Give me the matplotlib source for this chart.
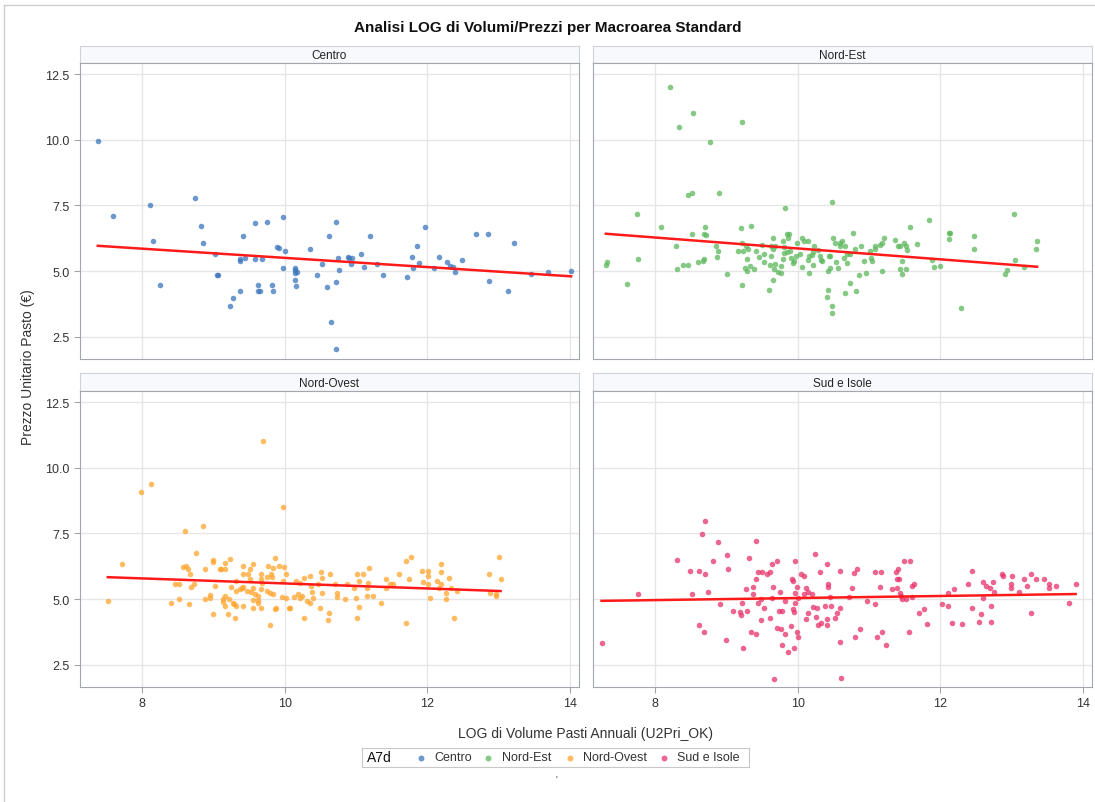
import matplotlib

matplotlib.use("Agg")

import matplotlib.pyplot as plt
import numpy as np
from matplotlib.lines import Line2D

plt.rcParams["font.family"] = ["Liberation Sans", "DejaVu Sans"]

REGIONS = ["Centro", "Nord-Est", "Nord-Ovest", "Sud e Isole"]
COLORS = ["#3b76bd", "#5cb85c", "#ffa52e", "#e8336b"]

centro_x = [7.38, 7.59, 8.11, 8.15, 8.25, 8.74, 8.83, 8.86, 9.02, 9.05, 9.07, 9.23, 9.27,
            9.37, 9.37, 9.38, 9.44, 9.41, 9.59, 9.59, 9.62, 9.63, 9.65, 9.68, 9.75, 9.83,
            9.84, 9.89, 9.92, 9.98, 10.0, 9.98, 10.14, 10.14, 10.15, 10.18, 10.14, 10.16,
            10.36, 10.46, 10.52, 10.59, 10.62, 10.65, 10.72, 10.72, 10.72, 10.75, 10.77,
            10.89, 10.90, 10.93, 10.94, 11.07, 11.11, 11.20, 11.29, 11.38, 11.72, 11.79,
            11.80, 11.86, 11.89, 11.97, 12.09, 12.16, 12.28, 12.32, 12.36, 12.39, 12.49,
            12.68, 12.85, 12.87, 13.13, 13.22, 13.46, 13.69, 14.02]
centro_y = [9.96, 7.11, 7.53, 6.15, 4.48, 7.80, 6.73, 6.09, 5.66, 4.86, 4.86, 3.68, 3.99,
            4.25, 5.47, 5.37, 5.51, 6.32, 6.85, 5.47, 4.48, 4.25, 4.25, 5.47, 6.89, 4.48,
            4.25, 5.92, 5.90, 7.08, 5.75, 5.13, 5.13, 5.05, 4.94, 4.96, 4.67, 4.44,
            5.85, 4.86, 5.28, 4.41, 6.34, 3.06, 6.89, 4.59, 2.04, 5.51, 5.05,
            5.54, 5.51, 5.28, 5.51, 5.66, 5.16, 6.34, 5.28, 4.86, 4.78, 5.54,
            5.13, 5.96, 5.32, 6.68, 5.13, 5.54, 5.35, 5.20, 5.16, 4.97, 5.43,
            6.42, 6.42, 4.63, 4.25, 6.08, 4.90, 4.97, 5.01]

nordest_x = [8.21, 8.53, 8.34, 9.22, 8.77, 8.46, 8.52, 8.90, 10.48, 9.83, 7.75, 13.03, 11.85,
             8.08, 8.70, 9.21, 9.35, 11.57, 8.52, 8.69, 8.71, 9.85, 9.88, 9.87, 10.78, 12.13,
             12.14, 12.13, 12.47, 13.36, 13.35, 12.47, 8.30, 8.85, 8.88, 8.87, 9.22, 9.16,
             9.23, 9.28, 9.31, 9.41, 9.50, 9.29, 9.46, 9.53, 9.65, 9.63, 9.65, 9.69, 9.63,
             9.53, 9.61, 9.69, 9.67, 9.73, 9.77, 9.77, 9.80, 9.81, 9.81, 9.80, 9.85, 9.90,
             9.91, 9.93, 9.95, 9.98, 9.99, 10.04, 10.06, 10.09, 10.14, 10.06, 10.16, 10.14,
             10.16, 10.20, 10.22, 10.23, 10.28, 10.21, 10.31, 10.33, 10.34, 10.44, 10.45,
             10.43, 10.46, 10.42, 10.41, 10.48, 10.48, 10.50, 10.52, 10.54, 10.57, 10.59,
             10.59, 10.62, 10.65, 10.67, 10.70, 10.73, 10.70, 10.73, 10.66, 10.82, 10.80,
             10.86, 10.89, 10.93, 10.96, 11.01, 11.03, 11.05, 11.08, 11.09, 11.16, 11.18,
             11.21, 11.19, 11.36, 11.41, 11.43, 11.49, 11.52, 11.53, 11.46, 11.43, 11.52,
             11.46, 11.67, 11.88, 11.91, 12.00, 12.29, 12.91, 12.94, 13.05, 13.18, 7.31,
             7.33, 7.60, 7.76, 8.31, 8.39, 8.46, 8.60, 8.67, 8.69, 9.01, 9.22, 9.26, 9.29,
             9.33, 9.39, 9.60, 9.65]
nordest_y = [11.99, 11.0, 10.47, 10.68, 9.92, 7.91, 7.99, 7.99, 7.65, 7.42, 7.19, 7.19, 6.96,
             6.70, 6.70, 6.66, 6.73, 6.70, 6.43, 6.43, 6.39, 6.43, 6.43, 6.28, 6.47, 6.47,
             6.47, 6.24, 6.35, 6.16, 5.86, 5.86, 5.97, 5.94, 5.78, 5.54, 6.09, 5.78,
             5.78, 5.94, 5.86, 5.75, 6.01, 5.47, 5.54, 5.67, 6.28, 5.94, 5.86, 5.97, 5.59,
             5.35, 5.24, 5.27, 5.09, 4.97, 4.95, 5.20, 6.13, 5.91, 5.71, 5.47, 5.72, 5.78,
             5.52, 5.32, 5.37, 5.59, 6.09, 5.67, 6.25, 6.13, 6.13, 5.16, 4.95, 5.42,
             5.59, 5.62, 5.72, 5.94, 5.80, 5.25, 5.59, 5.41, 5.37, 5.59, 5.56,
             5.01, 5.11, 4.29, 4.01, 3.68, 3.41, 6.28, 6.09, 5.34, 5.14, 6.09,
             5.97, 6.13, 5.52, 5.97, 5.66, 5.67, 5.32, 4.56, 4.18, 4.25, 5.86,
             4.86, 5.97, 5.37, 4.94, 5.75, 5.52, 5.37, 5.97, 5.86, 6.01, 6.09,
             6.28, 5.01, 6.20, 5.97, 5.94, 6.09, 5.96, 5.82, 5.37, 5.09, 5.09,
             4.90, 6.04, 5.41, 5.16, 5.20, 3.61, 4.90, 5.05, 5.41, 5.16, 5.24,
             5.35, 4.52, 5.47, 5.09, 5.24, 5.24, 5.35, 5.39, 5.47, 4.90, 4.48, 5.13, 5.01,
             5.20, 5.09, 4.29, 4.68]

nordovest_x = [7.52, 7.72, 7.99, 8.13, 9.70, 9.98, 8.60, 8.85, 8.76, 8.57, 8.62, 8.65, 8.68,
               8.46, 8.52, 8.69, 8.73, 8.41, 8.52, 8.66, 8.89, 8.99, 9.00, 9.03, 8.89, 8.96,
               8.96, 9.00, 9.10, 9.11, 9.17, 9.17, 9.24, 9.14, 9.14, 9.17, 9.17, 9.20, 9.22,
               9.25, 9.27, 9.29, 9.32, 9.30, 9.32, 9.32, 9.37, 9.40, 9.42, 9.42, 9.41, 9.48,
               9.47, 9.51, 9.52, 9.56, 9.42, 9.53, 9.55, 9.55, 9.55, 9.58, 9.62, 9.62, 9.63,
               9.67, 9.67, 9.69, 9.67, 9.67, 9.75, 9.77, 9.76, 9.81, 9.83, 9.84, 9.80, 9.84,
               9.87, 9.92, 9.99, 9.98, 10.02, 9.97, 10.02, 9.88, 9.87, 9.80, 10.06, 10.08,
               10.16, 10.22, 10.27, 10.35, 10.13, 10.19, 10.22, 10.25, 10.27, 10.31, 10.35,
               10.37, 10.38, 10.40, 10.47, 10.51, 10.52, 10.53, 10.50, 10.62, 10.61, 10.64,
               10.71, 10.74, 10.73, 10.85, 10.88, 10.98, 11.00, 11.02, 11.04, 11.02, 11.04,
               11.10, 11.16, 11.16, 11.17, 11.18, 11.24, 11.35, 11.42, 11.42, 11.48, 11.52,
               11.60, 11.70, 11.78, 11.75, 11.70, 11.93, 11.94, 12.01, 12.01, 12.01, 12.04,
               12.14, 12.19, 12.19, 12.19, 12.16, 12.26, 12.26, 12.30, 12.33, 12.42, 12.37,
               12.87, 12.88, 12.96, 12.96, 13.01, 13.03]
nordovest_y = [4.95, 6.32, 9.06, 9.37, 11.0, 8.49, 7.58, 7.77, 6.75, 6.24, 6.28, 6.13, 5.97,
               5.56, 5.56, 5.48, 5.56, 4.87, 4.99, 4.80, 6.16, 6.51, 6.41, 5.52, 4.99, 5.16,
               5.06, 4.42, 6.15, 6.16, 6.39, 6.16, 6.54, 4.99, 4.91, 5.14, 4.76, 4.42, 4.99,
               5.48, 4.87, 4.80, 4.76, 4.27, 5.71, 5.33, 5.37, 5.44, 5.48, 6.28, 5.97, 5.97,
               5.33, 6.16, 5.75, 6.35, 4.76, 5.29, 5.44, 4.97, 4.68, 5.20, 5.14, 4.97, 4.84,
               5.97, 5.75, 5.63, 5.37, 4.65, 5.33, 6.28, 5.86, 5.97, 5.86, 6.20, 5.25, 5.18,
               6.58, 6.28, 6.24, 5.71, 5.97, 5.10, 5.04, 4.65, 4.61, 4.00, 4.65, 4.68,
               5.71, 5.63, 5.82, 5.90, 5.10, 5.20, 5.06, 5.14, 4.30, 4.95, 4.87,
               5.52, 5.29, 5.06, 5.59, 6.05, 5.82, 5.25, 4.65, 4.49, 4.19, 5.97,
               5.59, 5.22, 5.10, 4.99, 5.59, 5.44, 5.06, 5.94, 5.71, 4.27, 4.72,
               5.97, 5.44, 5.14, 5.63, 6.20, 5.14, 4.87, 5.75, 5.44, 5.56, 5.56,
               5.97, 6.47, 6.62, 5.75, 4.11, 6.09, 5.67, 6.09, 5.90, 5.56, 5.03,
               5.71, 6.32, 6.05, 5.56, 5.41, 5.22, 4.99, 5.82, 5.41, 5.33, 4.27,
               5.97, 5.25, 5.14, 5.18, 6.62, 5.78]

sud_x = [7.25, 7.76, 8.31, 8.49, 8.52, 8.61, 8.70, 8.66, 8.70, 8.74, 8.81, 8.88, 8.91, 8.61,
         8.69, 9.00, 9.01, 9.03, 9.10, 9.19, 9.21, 9.22, 9.24, 9.27, 9.29, 9.32, 9.35, 9.38,
         9.38, 9.41, 9.41, 9.42, 9.44, 9.45, 9.48, 9.49, 9.50, 9.53, 9.57, 9.61, 9.64, 9.61,
         9.64, 9.66, 9.67, 9.71, 9.71, 9.74, 9.75, 9.78, 9.77, 9.78, 9.82, 9.82, 9.87, 9.91,
         9.92, 9.94, 9.94, 9.95, 9.95, 9.97, 9.97, 9.97, 9.99, 9.99, 10.01, 10.01, 10.05,
         10.09, 10.09, 10.12, 10.12, 10.15, 10.15, 10.20, 10.22, 10.25, 10.27, 10.26, 10.28,
         10.32, 10.33, 10.38, 10.41, 10.41, 10.41, 10.43, 10.43, 10.46, 10.47, 10.53, 10.55,
         10.59, 10.59, 10.59, 10.61, 10.72, 10.76, 10.79, 10.80, 10.84, 10.88, 10.97, 11.08,
         11.08, 11.11, 11.15, 11.17, 11.18, 11.24, 11.33, 11.38, 11.39, 11.39, 11.41, 11.42,
         11.43, 11.45, 11.47, 11.49, 11.52, 11.56, 11.57, 11.61, 11.61, 11.64, 11.71, 11.78,
         11.81, 12.02, 12.11, 12.11, 12.16, 12.20, 12.30, 12.39, 12.44, 12.44, 12.55, 12.57,
         12.60, 12.60, 12.64, 12.70, 12.72, 12.72, 12.74, 12.75, 12.87, 12.88, 13.00, 13.00,
         13.01, 13.10, 13.17, 13.22, 13.27, 13.28, 13.35, 13.46, 13.52, 13.52, 13.62, 13.81,
         13.90]
sud_y = [3.34, 5.18, 6.51, 6.09, 5.18, 6.09, 5.94, 7.49, 7.99, 5.29, 6.47, 7.19, 4.80, 4.00,
         3.77, 3.46, 6.70, 6.13, 4.57, 4.53, 4.38, 4.87, 3.15, 5.37, 4.57, 6.58, 3.77, 5.48,
         5.18, 5.78, 7.23, 3.68, 6.05, 4.87, 4.19, 4.99, 6.05, 4.65, 5.94, 6.05, 6.32, 4.27,
         5.06, 5.48, 1.97, 6.47, 3.89, 4.57, 5.29, 4.57, 3.85, 3.24, 3.66, 4.95, 3.00, 3.99,
         5.78, 5.71, 4.61, 4.53, 3.15, 6.47, 5.25, 4.87, 5.48, 3.77, 3.58, 5.03, 5.94,
         5.90, 5.18, 5.44, 4.23, 5.29, 4.49, 5.18, 4.72, 6.71, 4.65, 4.34, 4.00,
         6.05, 4.11, 4.76, 6.32, 4.23, 4.00, 5.56, 5.48, 5.10, 4.76, 4.30, 4.46,
         6.09, 4.65, 3.38, 2.01, 5.10, 5.41, 6.01, 3.58, 6.13, 3.85, 4.95, 6.05,
         4.80, 3.58, 5.48, 6.05, 3.77, 3.24, 5.37, 6.05, 5.78, 5.44, 6.16, 5.78,
         5.25, 5.14, 4.99, 6.47, 4.99, 3.77, 6.47, 5.10, 5.52, 5.59, 4.49, 4.61,
         4.04, 4.80, 5.22, 4.76, 4.11, 5.37, 4.04, 5.56, 6.09, 4.68, 4.15, 4.42,
         5.67, 5.06, 5.52, 5.44, 4.76, 4.15, 5.67, 5.29, 5.94, 5.90, 5.56, 5.44,
         5.90, 5.29, 5.78, 5.52, 4.49, 5.94, 5.78, 5.78, 5.56, 5.41, 5.52, 4.84,
         5.56]

SERIES = [(centro_x, centro_y), (nordest_x, nordest_y), (nordovest_x, nordovest_y), (sud_x, sud_y)]

X_TICKS = [8, 10, 12, 14]
Y_TICKS = [2.5, 5.0, 7.5, 10.0, 12.5]
XLIM = (7.13, 14.13)
YLIM = (1.66, 12.92)

W, H = 1095, 803
GRID = "#e6e6e6"
FRAME = "#a3a7ad"
TEXT = "#333333"


def box(x0, y0, x1, y1):
    return [x0 / W, 1 - y1 / H, (x1 - x0) / W, (y1 - y0) / H]


fig = plt.figure(figsize=(W / 100, H / 100), dpi=100)

# outer frame
fig.add_artist(Line2D([4 / W, 1], [1 - 6 / H] * 2, color="#cfcfcf", lw=1))
fig.add_artist(Line2D([4 / W] * 2, [0, 1 - 6 / H], color="#cfcfcf", lw=1))

cols = [(80, 579), (593, 1092)]
rows = [(47, 64, 360), (374, 392, 688)]

for i, (name, color, (xs, ys)) in enumerate(zip(REGIONS, COLORS, SERIES)):
    r, c = divmod(i, 2)
    x0, x1 = cols[c]
    s0, p0, p1 = rows[r]

    strip = fig.add_axes(box(x0, s0, x1, p0))
    strip.set_facecolor("#f7f9fd")
    strip.set_xticks([])
    strip.set_yticks([])
    for sp in strip.spines.values():
        sp.set_color("#cfd3d8")
    strip.spines["bottom"].set_color(FRAME)
    strip.text(0.5, 0.45, name, ha="center", va="center", fontsize=8.5,
               color="#222222", transform=strip.transAxes)

    ax = fig.add_axes(box(x0, p0, x1, p1))
    ax.set_xlim(*XLIM)
    ax.set_ylim(*YLIM)
    ax.set_xticks(X_TICKS)
    ax.set_yticks(Y_TICKS)
    ax.grid(True, color=GRID, lw=1)
    ax.set_axisbelow(True)
    for sp in ax.spines.values():
        sp.set_color(FRAME)
    ax.tick_params(length=4, color=FRAME, labelcolor=TEXT, labelsize=9)
    if r == 0:
        ax.tick_params(axis="x", length=0, labelbottom=False)
    if c == 1:
        ax.tick_params(axis="y", length=0, labelleft=False)
    else:
        ax.set_yticklabels([f"{t:.1f}" for t in Y_TICKS])

    ax.scatter(xs, ys, s=16, color=color, alpha=0.75, linewidths=0, zorder=3)

    slope, intercept = np.polyfit(xs, ys, 1)
    fx = np.array([min(xs), max(xs)])
    ax.plot(fx, slope * fx + intercept, color="#ff1a1a", lw=1.8, zorder=4)

fig.text(548 / W, 1 - 28 / H, "Analisi LOG di Volumi/Prezzi per Macroarea Standard",
         ha="center", va="center", fontsize=11, fontweight="bold", color="#111111")
fig.text(28 / W, 1 - 367 / H, "Prezzo Unitario Pasto (€)", rotation=90,
         ha="center", va="center", fontsize=10, color=TEXT)
fig.text(585 / W, 1 - 734 / H, "LOG di Volume Pasti Annuali (U2Pri_OK)",
         ha="center", va="center", fontsize=10, color=TEXT)

# legend
leg = fig.add_axes(box(362, 749, 749, 768))
leg.set_xlim(362, 749)
leg.set_ylim(768, 749)
leg.set_xticks([])
leg.set_yticks([])
for sp in leg.spines.values():
    sp.set_color("#c8c8c8")
leg.text(367, 758.5, "A7d", ha="left", va="center", fontsize=10, color="#111111")
marker_x = [421, 488, 570, 664]
label_x = [434, 502, 583, 677]
for name, color, mx, lx in zip(REGIONS, COLORS, marker_x, label_x):
    leg.scatter([mx], [758.5], s=18, color=color, alpha=0.75, linewidths=0)
    leg.text(lx, 758.5, name, ha="left", va="center", fontsize=9, color=TEXT)

fig.text(556 / W, 1 - 781 / H, "'", ha="center", va="center", fontsize=7, color="#444444")

fig.savefig("out.png", dpi=100)
